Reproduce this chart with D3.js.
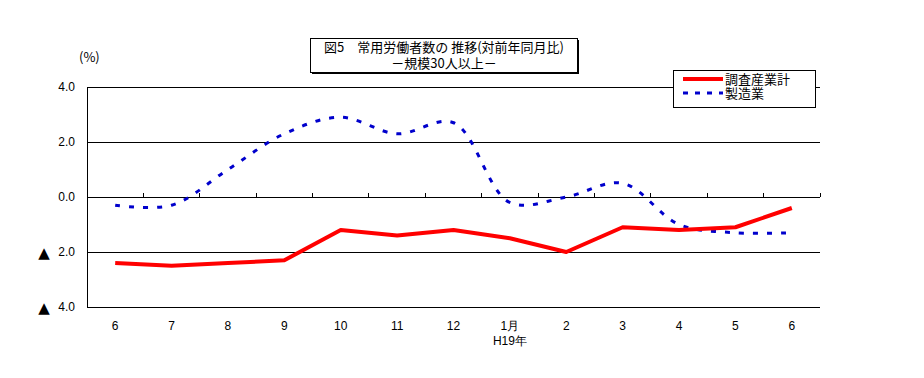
<!DOCTYPE html>
<html>
<head>
<meta charset="utf-8">
<script src="https://cdn.jsdelivr.net/npm/d3@7"></script>
<style>
  body { margin:0; background:#fff; }
  svg { display:block; font-family:"Noto Sans CJK JP","Noto Sans",sans-serif; }
</style>
</head>
<body>
<div id="chart"></div>
<script>
// months (H18/6 .. H19/6)
const months = ["6","7","8","9","10","11","12","1月","2","3","4","5","6"];
const subLabels = {"1月":"H19年"};
const yTicks = [4, 2, 0, -2, -4];
// series, % vs same month previous year
const allIndustries = [-2.4,-2.5,-2.4,-2.3,-1.2,-1.4,-1.2,-1.5,-2.0,-1.1,-1.2,-1.1,-0.4];
const manufacturing = [-0.3,-0.3,1.0,2.3,2.9,2.3,2.7,-0.2,0.0,0.5,-1.0,-1.3,-1.3];
const seriesNames = ["調査産業計","製造業"];

const W = 924, H = 378;
const margin = {top:87, right:104, bottom:71, left:87};
const innerWidth = W - margin.left - margin.right;
const innerHeight = H - margin.top - margin.bottom;

const svg = d3.select("#chart").append("svg").attr("width",W).attr("height",H);
const chart = svg.append("g").attr("transform",`translate(${margin.left},${margin.top})`);

const x = d3.scaleBand().domain(d3.range(months.length)).range([0, innerWidth]).padding(0);
const y = d3.scaleLinear().domain([-4,4]).range([innerHeight,0]);

// gridlines
chart.selectAll("line.grid").data(yTicks).enter().append("line")
  .attr("x1",0).attr("x2",innerWidth)
  .attr("y1",d=>y(d)).attr("y2",d=>y(d))
  .attr("stroke","#000").attr("stroke-width",1).attr("shape-rendering","crispEdges");
chart.append("line").attr("x1",0).attr("x2",0).attr("y1",0).attr("y2",innerHeight)
  .attr("stroke","#000").attr("shape-rendering","crispEdges");

// category ticks on the zero line
const bounds = d3.range(1, months.length+1).map(i => i * x.step());
chart.selectAll("line.xtick").data(bounds).enter().append("line")
  .attr("x1",d=>d).attr("x2",d=>d).attr("y1",y(0)-4).attr("y2",y(0))
  .attr("stroke","#000").attr("shape-rendering","crispEdges");

// y axis labels (negatives shown with ▲)
const yAxis = chart.append("g")
  .call(d3.axisLeft(y).tickValues(yTicks).tickSize(0).tickPadding(12).tickFormat(d => Math.abs(d).toFixed(1)));
yAxis.select(".domain").remove();
yAxis.selectAll("text").attr("font-size","12px").attr("fill","#000").attr("font-family","'Liberation Sans',sans-serif");
yAxis.selectAll(".tick").filter(d => d < 0).append("text")
  .attr("x",-43).attr("dy","0.36em").attr("text-anchor","middle")
  .attr("font-size","15px").attr("fill","#000").attr("font-family","'DejaVu Sans',sans-serif")
  .text("▲");

// x axis labels
const xAxis = chart.append("g").attr("transform",`translate(0,${innerHeight})`)
  .call(d3.axisBottom(x).tickSize(0).tickPadding(14).tickFormat(i => months[i]));
xAxis.select(".domain").remove();
xAxis.selectAll("text").attr("font-size","12px").attr("fill","#000");
xAxis.selectAll(".tick").filter(i => subLabels[months[i]])
  .append("text").attr("y",38).attr("fill","#000").attr("font-size","12px")
  .text(i => subLabels[months[i]]);

// lines
const cx = i => x(i) + x.bandwidth()/2;
const redLine = d3.line().x((d,i)=>cx(i)).y(d=>y(d));
const blueLine = d3.line().x((d,i)=>cx(i)).y(d=>y(d)).curve(d3.curveCatmullRom.alpha(0.5));

chart.append("path").datum(manufacturing).attr("d",blueLine)
  .attr("fill","none").attr("stroke","#0000cc").attr("stroke-width",3)
  .attr("stroke-dasharray","5,9");
chart.append("path").datum(allIndustries).attr("d",redLine)
  .attr("fill","none").attr("stroke","#ff0000").attr("stroke-width",4)
  .attr("stroke-linejoin","round");

// (%)
svg.append("text").attr("x",79).attr("y",62).attr("font-size","13px").text("(%)");

// title box with shadow
const tb = svg.append("g").attr("transform","translate(310,38)");
tb.append("rect").attr("x",2).attr("y",2).attr("width",267).attr("height",34).attr("fill","#000");
tb.append("rect").attr("x",0).attr("y",0).attr("width",267).attr("height",34)
  .attr("fill","#fff").attr("stroke","#000").attr("shape-rendering","crispEdges");
tb.append("text").attr("x",134).attr("y",14).attr("text-anchor","middle").attr("font-size","13px")
  .text("図5　常用労働者数の 推移(対前年同月比)");
tb.append("text").attr("x",134).attr("y",30).attr("text-anchor","middle").attr("font-size","13px")
  .text("－規模30人以上－");

// legend
const lg = svg.append("g").attr("transform","translate(673,70)");
lg.append("rect").attr("width",142).attr("height",37).attr("fill","#fff")
  .attr("stroke","#000").attr("shape-rendering","crispEdges");
const lgStyles = [
  {stroke:"#ff0000", w:4, dash:null},
  {stroke:"#0000cc", w:3, dash:"5,7"}
];
seriesNames.forEach((name,i)=>{
  const g = lg.append("g").attr("transform",`translate(0,${9 + i*14})`);
  g.append("line").attr("x1",10).attr("x2",50).attr("y1",0).attr("y2",0)
    .attr("stroke",lgStyles[i].stroke).attr("stroke-width",lgStyles[i].w)
    .attr("stroke-dasharray",lgStyles[i].dash);
  g.append("text").attr("x",52).attr("y",5).attr("font-size","13px").text(name);
});
</script>
</body>
</html>
